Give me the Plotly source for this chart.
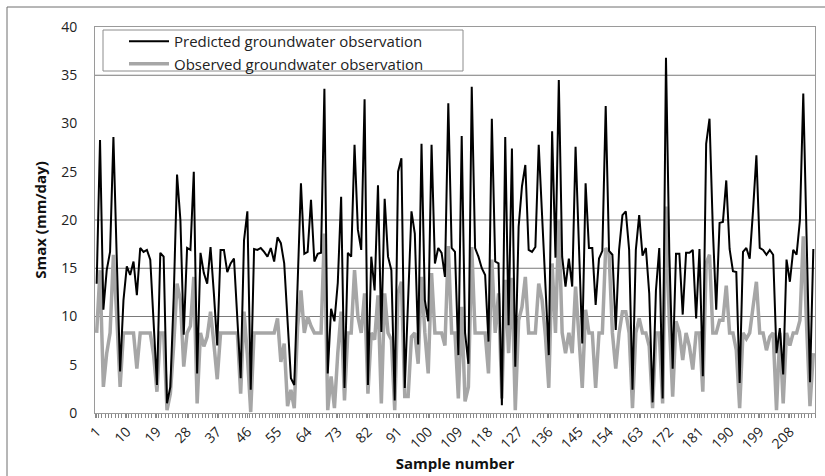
import plotly.graph_objects as go

predicted = [
    13.4, 28.3, 10.7, 14.8, 16.7, 28.6, 16.0, 4.3, 11.7, 15.2,
    14.3, 15.7, 12.2, 17.1, 16.7, 16.9, 15.9, 10.0, 2.9, 16.6,
    16.2, 1.0, 2.7, 12.0, 24.7, 20.0, 8.1, 17.1, 16.9, 25.0,
    4.1, 16.6, 14.5, 13.4, 17.2, 12.4, 7.0, 16.9, 16.9, 14.6,
    15.5, 16.0, 10.0, 3.6, 17.9, 20.9, 2.4, 17.0, 16.9, 17.1,
    16.7, 16.2, 17.1, 15.7, 18.2, 17.6, 15.5, 9.0, 3.6, 2.9,
    13.0, 23.8, 16.5, 16.7, 22.1, 15.7, 16.5, 16.6, 33.6, 4.1,
    10.8, 9.5, 13.5, 22.4, 2.6, 16.6, 16.2, 27.8, 19.0, 16.9,
    32.5, 2.9, 16.2, 12.7, 23.6, 8.4, 22.2, 16.2, 14.8, 1.3,
    25.0, 26.4, 2.6, 12.0, 20.9, 18.6, 7.1, 27.9, 11.7, 9.5,
    27.8, 15.5, 17.1, 16.6, 14.1, 32.1, 17.1, 16.7, 6.0, 28.7,
    8.3, 5.1, 33.8, 17.1, 16.2, 15.0, 14.3, 7.4, 30.5, 15.7,
    15.5, 0.8, 28.6, 9.1, 27.4, 4.8, 19.3, 23.5, 25.7, 16.9,
    16.7, 17.2, 27.8, 20.5, 13.2, 6.0, 29.2, 16.1, 34.5, 16.2,
    13.1, 16.0, 13.1, 27.6, 17.4, 7.2, 23.8, 17.1, 17.1, 11.2,
    16.0, 16.8, 31.8, 16.8, 16.4, 8.6, 16.9, 20.5, 20.9, 16.9,
    2.4, 16.9, 20.5, 16.3, 17.1, 12.4, 1.1, 12.7, 17.1, 1.5,
    36.8, 16.5, 4.6, 16.5, 16.5, 10.2, 16.6, 16.6, 16.9, 9.8,
    17.0, 3.8, 27.9, 30.5, 19.0, 10.7, 19.7, 19.8, 24.1, 17.0,
    14.7, 14.6, 3.1, 16.7, 17.1, 16.0, 21.0, 26.7, 17.1, 16.9,
    16.4, 16.9, 16.4, 6.2, 8.8, 4.0, 15.9, 13.6, 16.9, 16.4,
    20.0, 33.1, 18.0, 3.2, 17.0,
]

observed = [
    8.3, 14.8, 2.7, 6.2, 8.3, 16.4, 10.0, 2.7, 8.3, 8.3,
    8.3, 8.3, 4.6, 8.3, 8.3, 8.3, 8.3, 6.0, 2.2, 8.3,
    8.3, 0.3, 2.0, 7.0, 13.4, 11.7, 4.8, 8.3, 9.0, 14.1,
    1.0, 8.3, 6.9, 7.9, 10.5, 7.2, 3.5, 8.3, 8.3, 8.3,
    8.3, 8.3, 8.3, 2.0, 10.5, 6.0, 0.1, 8.3, 8.3, 8.3,
    8.3, 8.3, 8.3, 8.3, 9.8, 5.3, 7.2, 0.7, 2.4, 0.5,
    8.9, 12.7, 8.3, 10.0, 9.0, 8.3, 8.3, 8.3, 18.6, 0.3,
    3.8, 0.5, 6.2, 10.5, 1.3, 8.3, 8.3, 14.8, 10.0, 8.3,
    12.4, 2.0, 8.3, 7.6, 12.2, 1.0, 12.4, 8.3, 7.6, 0.3,
    12.4, 13.6, 1.7, 1.7, 7.9, 8.3, 5.1, 14.1, 8.3, 4.1,
    14.5, 8.3, 8.3, 8.3, 7.0, 17.3, 8.3, 8.3, 1.5, 11.0,
    1.2, 2.7, 17.2, 8.3, 8.3, 8.3, 8.3, 4.1, 15.9, 8.3,
    12.4, 1.5, 13.8, 6.2, 14.0, 0.3, 9.6, 11.0, 14.1, 8.3,
    8.3, 8.3, 13.4, 11.7, 8.0, 2.6, 15.5, 8.3, 20.0, 8.3,
    6.2, 8.3, 6.2, 13.1, 8.0, 2.6, 10.7, 8.3, 8.3, 2.6,
    8.3, 8.3, 17.1, 16.5, 8.3, 4.6, 8.3, 10.5, 10.5, 8.3,
    0.5, 8.3, 9.8, 8.3, 8.3, 6.9, 0.5, 8.3, 8.3, 1.0,
    21.4, 9.5, 1.7, 9.5, 8.4, 5.5, 8.3, 6.9, 4.5, 8.3,
    8.3, 2.2, 15.5, 16.4, 8.3, 8.3, 9.6, 9.6, 13.2, 8.3,
    8.3, 6.5, 0.5, 8.3, 7.7, 8.3, 11.0, 13.6, 8.3, 8.3,
    6.5, 7.9, 8.3, 0.3, 8.3, 1.0, 8.3, 7.0, 8.3, 8.3,
    9.6, 18.3, 9.0, 0.7, 6.2,
]

samples = list(range(1, len(predicted) + 1))
tick_samples = list(range(1, len(predicted) + 1, 9))
y_ticks = [0, 5, 10, 15, 20, 25, 30, 35, 40]
visible_grid = [10, 15, 20, 35]

FONT = "'Open Sans', Lato, sans-serif"

fig = go.Figure()
fig.add_trace(go.Scatter(
    x=samples, y=observed, mode="lines",
    name="Observed groundwater observation",
    line=dict(color="#a6a6a6", width=3.5), legendrank=2,
))
fig.add_trace(go.Scatter(
    x=samples, y=predicted, mode="lines",
    name="Predicted groundwater observation",
    line=dict(color="#000000", width=2), legendrank=1,
))

shapes = []
for g in visible_grid:
    shapes.append(dict(type="line", xref="paper", x0=0, x1=1, yref="y", y0=g, y1=g,
                       line=dict(color="#7a7a7a", width=1), layer="below"))
# legend box
W, H = 720.0, 386.0
shapes.append(dict(type="rect", xref="paper", yref="paper",
                   x0=(103 - 95) / W, x1=(463 - 95) / W,
                   y0=(413 - 71) / H, y1=(413 - 30) / H,
                   line=dict(color="#8c8c8c", width=1), fillcolor="white", layer="below"))
# outer frame
shapes.append(dict(type="line", xref="paper", yref="paper",
                   x0=(7 - 95) / W, x1=1.2, y0=(413 - 7) / H, y1=(413 - 7) / H,
                   line=dict(color="#6e6e6e", width=1)))
shapes.append(dict(type="line", xref="paper", yref="paper",
                   x0=(7 - 95) / W, x1=(7 - 95) / W, y0=-0.3, y1=(413 - 7) / H,
                   line=dict(color="#6e6e6e", width=1)))

fig.update_layout(
    width=825, height=476,
    margin=dict(l=95, r=10, t=27, b=63),
    paper_bgcolor="white", plot_bgcolor="white",
    font=dict(family=FONT, color="#222222", size=13),
    showlegend=True,
    legend=dict(x=(124 - 95) / W, y=(413 - 25) / H, xanchor="left", yanchor="top",
                bgcolor="rgba(0,0,0,0)", borderwidth=0,
                font=dict(family=FONT, size=15, color="#222222"),
                tracegroupgap=0, itemwidth=40),
    shapes=shapes,
    xaxis=dict(
        range=[0.5, len(samples) + 0.5],
        tickmode="array", tickvals=tick_samples, ticktext=[str(t) for t in tick_samples],
        tickangle=-45, ticks="outside", ticklen=4, tickcolor="#888888",
        minor=dict(tickmode="linear", tick0=0.5, dtick=1, ticks="outside",
                   ticklen=4, tickcolor="#888888"),
        showgrid=False, zeroline=False,
        showline=True, linecolor="#9a9a9a", linewidth=1, mirror=True,
        tickfont=dict(size=14, color="#222222"),
        title=dict(text="<b>Sample number</b>", font=dict(size=15, color="#111111"), standoff=2),
    ),
    yaxis=dict(
        range=[0, 40], tickmode="array", tickvals=y_ticks,
        showgrid=False, zeroline=False, ticks="",
        showline=True, linecolor="#9a9a9a", linewidth=1, mirror=True,
        ticklabelstandoff=14,
        tickfont=dict(size=14, color="#222222"),
        title=dict(text="<b>Smax (mm/day)</b>", font=dict(size=15, color="#111111"), standoff=10),
    ),
)

fig.write_html("out.html")
